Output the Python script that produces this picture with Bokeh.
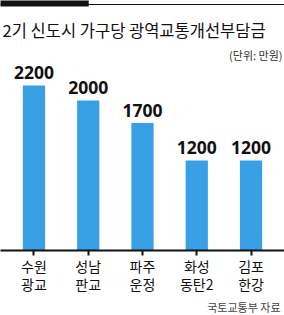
from bokeh.plotting import figure
from bokeh.models import ColumnDataSource, FactorRange, Range1d, Label, Span, CategoricalAxis, Title
from bokeh.core.properties import value
from bokeh.embed import file_html
from bokeh.resources import INLINE

categories = ["수원\n광교", "성남\n판교", "파주\n운정", "화성\n동탄2", "김포\n한강"]
values = [2200, 2000, 1700, 1200, 1200]
value_labels = ["2200", "2000", "1700", "1200", "1200"]

title_text = "2기 신도시 가구당 광역교통개선부담금"
unit_text = "(단위: 만원)"
source_text = "국토교통부 자료"

KR = "Noto Sans CJK KR"
Y_TOP = 3333          # y-range end (frame top)
PAD = 0.117           # x range padding (factor units)

src = ColumnDataSource(dict(cat=categories, val=values, lab=value_labels))

p = figure(
    width=284, height=315,
    x_range=FactorRange(*categories, range_padding=PAD, range_padding_units="absolute"),
    y_range=Range1d(0, Y_TOP),
    output_backend="svg", toolbar_location=None,
    min_border_left=0, min_border_right=0, min_border_top=0, min_border_bottom=65,
    x_axis_location=None, y_axis_location=None,
)
p.outline_line_color = None
p.grid.visible = False
p.background_fill_color = "white"
p.border_fill_color = "white"

p.vbar(x="cat", top="val", bottom=0, width=0.41, source=src,
       fill_color="#38a1e5", line_color=None)

p.text(x="cat", y="val", text="lab", source=src, x_offset=0, y_offset=-6,
       text_align="center", text_baseline="bottom",
       text_font=value("Noto Sans"), text_font_style="bold",
       text_font_size="17.5px", text_color="#111111")

ax = CategoricalAxis()
ax.axis_line_color = "#111111"
ax.axis_line_width = 2
ax.major_tick_line_color = "#111111"
ax.major_tick_line_width = 2
ax.major_tick_out = 5
ax.major_tick_in = 0
ax.minor_tick_line_color = None
ax.major_label_text_font = KR
ax.major_label_text_font_size = "14px"
ax.major_label_text_color = "#111111"
ax.major_label_standoff = 0
ax.major_label_text_line_height = 0.9
p.add_layout(ax, "below")

p.add_layout(Title(text=source_text, align="right", text_font=KR,
                   text_font_size="11px", text_color="#444444",
                   text_font_style="normal", standoff=0, offset=4), "below")

# header decoration: thin rule across, thick black block at left
p.add_layout(Span(location=Y_TOP - 4 / 0.075, dimension="width",
                  line_color="#111111", line_width=1))
start = -PAD / 2
px_per_unit = 284 / (len(categories) + PAD)
p.quad(left=start - 1, right=start + 87 / px_per_unit,
       bottom=Y_TOP - 6 / 0.075, top=Y_TOP + 10,
       fill_color="#111111", line_color=None)

p.add_layout(Label(x=2, y=209, x_units="screen", y_units="screen", text=title_text,
                   text_font=KR, text_font_size="16.5px", text_color="#111111",
                   text_baseline="bottom"))
p.add_layout(Label(x=282, y=188, x_units="screen", y_units="screen", text=unit_text,
                   text_font=KR, text_font_size="11px", text_color="#333333",
                   text_align="right", text_baseline="bottom"))

open("out.html", "w").write(file_html(p, INLINE))
